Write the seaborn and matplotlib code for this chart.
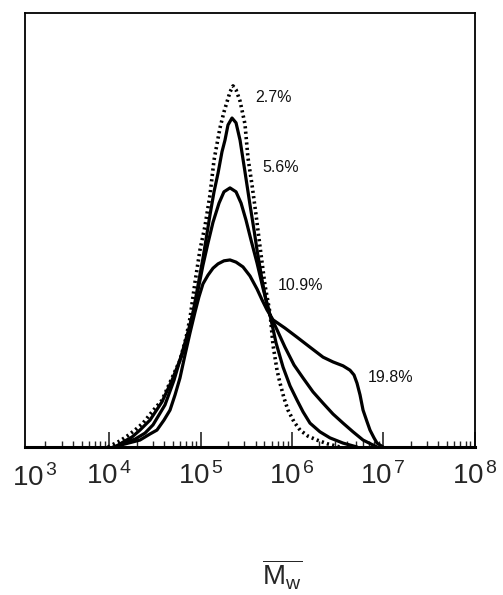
import numpy as np
import pandas as pd
import matplotlib
matplotlib.use("Agg")
import matplotlib.pyplot as plt
import matplotlib.transforms as mtransforms
from matplotlib.ticker import LogLocator, NullFormatter
import seaborn as sns

# --- data: log10(M) and relative weight fraction ---
logm_27 = [3.986, 4.117, 4.194, 4.281, 4.369, 4.468, 4.577, 4.676, 4.774, 4.840, 4.884,
           4.939, 4.993, 5.048, 5.103, 5.147, 5.212, 5.256, 5.289, 5.322, 5.355, 5.388,
           5.432, 5.486, 5.519, 5.563, 5.607, 5.651, 5.705, 5.760, 5.793, 5.837, 5.870,
           5.913, 5.957, 6.023, 6.089, 6.176, 6.275, 6.395, 6.527]
w_27 = [0.0, 0.014, 0.025, 0.039, 0.055, 0.081, 0.108, 0.154, 0.200, 0.251, 0.297,
        0.380, 0.454, 0.509, 0.581, 0.661, 0.735, 0.772, 0.795, 0.818, 0.832, 0.823,
        0.797, 0.744, 0.666, 0.604, 0.535, 0.461, 0.373, 0.309, 0.235, 0.177, 0.147,
        0.113, 0.085, 0.058, 0.039, 0.025, 0.016, 0.007, 0.0]

logm_56 = [4.062, 4.172, 4.249, 4.336, 4.446, 4.577, 4.687, 4.796, 4.862, 4.917, 4.972,
           5.026, 5.103, 5.147, 5.191, 5.234, 5.267, 5.300, 5.344, 5.388, 5.432, 5.486,
           5.541, 5.585, 5.618, 5.673, 5.716, 5.760, 5.826, 5.903, 5.979, 6.056, 6.122,
           6.198, 6.307, 6.417, 6.560, 6.713]
w_56 = [0.0, 0.014, 0.023, 0.039, 0.062, 0.104, 0.154, 0.212, 0.258, 0.309, 0.373,
        0.435, 0.535, 0.588, 0.631, 0.680, 0.707, 0.742, 0.758, 0.747, 0.707, 0.634,
        0.558, 0.500, 0.454, 0.385, 0.339, 0.304, 0.240, 0.184, 0.141, 0.108, 0.081,
        0.055, 0.035, 0.021, 0.009, 0.0]

logm_109 = [4.085, 4.194, 4.281, 4.391, 4.479, 4.610, 4.709, 4.807, 4.862, 4.917, 4.972,
            5.026, 5.081, 5.136, 5.202, 5.256, 5.322, 5.388, 5.443, 5.497, 5.552, 5.618,
            5.683, 5.760, 5.837, 5.924, 6.023, 6.122, 6.231, 6.341, 6.450, 6.560, 6.669,
            6.779, 6.932]
w_109 = [0.0, 0.012, 0.018, 0.032, 0.051, 0.097, 0.154, 0.224, 0.265, 0.309, 0.362,
         0.419, 0.470, 0.518, 0.562, 0.588, 0.597, 0.588, 0.562, 0.523, 0.477, 0.424,
         0.366, 0.304, 0.270, 0.230, 0.189, 0.159, 0.127, 0.101, 0.076, 0.055, 0.035,
         0.016, 0.0]

logm_198 = [4.041, 4.172, 4.336, 4.446, 4.522, 4.599, 4.665, 4.720, 4.774, 4.829, 4.884,
            4.939, 4.982, 5.026, 5.081, 5.136, 5.191, 5.256, 5.322, 5.388, 5.464, 5.541,
            5.618, 5.673, 5.727, 5.793, 5.924, 6.056, 6.198, 6.341, 6.450, 6.560, 6.636,
            6.680, 6.713, 6.746, 6.779, 6.823, 6.855, 6.899, 6.932, 6.998]
w_198 = [0.0, 0.007, 0.016, 0.030, 0.039, 0.062, 0.085, 0.120, 0.159, 0.212, 0.263,
         0.311, 0.346, 0.376, 0.396, 0.412, 0.422, 0.429, 0.431, 0.426, 0.415, 0.394,
         0.364, 0.339, 0.316, 0.293, 0.274, 0.253, 0.230, 0.207, 0.196, 0.187, 0.177,
         0.166, 0.147, 0.120, 0.085, 0.058, 0.039, 0.021, 0.009, 0.0]

labels = ["2.7%", "5.6%", "10.9%", "19.8%"]
label_logm = [5.60, 5.68, 5.84, 6.83]
label_w = [0.806, 0.645, 0.371, 0.161]

decades = [4, 5, 6, 7, 8]

sns.set_style("ticks")
plt.rcParams["font.family"] = ["Liberation Sans", "DejaVu Sans"]
plt.rcParams["mathtext.fontset"] = "custom"
plt.rcParams["mathtext.rm"] = "Liberation Sans"
plt.rcParams["mathtext.it"] = "Liberation Sans"
plt.rcParams["mathtext.default"] = "regular"

fig = plt.figure(figsize=(5.03, 5.95), dpi=100)
ax = fig.add_axes([25 / 503, 148 / 595, 450 / 503, 434 / 595])

curves = [(logm_27, w_27), (logm_56, w_56), (logm_109, w_109), (logm_198, w_198)]
for i, (lm, w) in enumerate(curves):
    df = pd.DataFrame({"M": 10 ** np.array(lm), "w": w})
    if i == 0:
        sns.lineplot(data=df, x="M", y="w", ax=ax, color="black", lw=2.6,
                     linestyle=(0, (0.6, 0.9)), estimator=None, sort=False)
    else:
        sns.lineplot(data=df, x="M", y="w", ax=ax, color="black", lw=2.3,
                     estimator=None, sort=False)

for txt, lm, w in zip(labels, label_logm, label_w):
    ax.text(10 ** lm, w, txt, fontsize=11.5, ha="left", va="center", color="#111111")

ax.set_xscale("log")
ax.set_xlim(10 ** 3.077, 10 ** 8.005)
ax.set_ylim(0, 1.0)
ax.set_yticks([])
ax.set_ylabel("")

ax.set_xticks([10.0 ** d for d in decades])
ax.set_xticklabels([r"$10^{\,%d}$" % d for d in decades], fontsize=20)
ax.xaxis.set_minor_locator(LogLocator(base=10, subs=np.arange(2, 10), numticks=20))
ax.xaxis.set_minor_formatter(NullFormatter())
ax.tick_params(axis="x", which="major", direction="in", length=11, width=1.2, pad=11)
ax.tick_params(axis="x", which="minor", direction="in", length=4.5, width=1.0)

# 10^3 sits just left of the visible axis range
trans = mtransforms.blended_transform_factory(ax.transData, ax.transAxes)
ax.text(10 ** 3.19, -0.04, r"$10^{\,3}$", fontsize=20, ha="center", va="top",
        transform=trans)

ax.set_xlabel(r"$\overline{M_{w}}$", fontsize=20)
ax.xaxis.set_label_coords((282 - 25) / 450, -0.255)

for side in ["top", "left", "right"]:
    ax.spines[side].set_linewidth(1.3)
ax.spines["bottom"].set_linewidth(2.2)
for s in ax.spines.values():
    s.set_color("black")

fig.savefig("out.png", dpi=100)
